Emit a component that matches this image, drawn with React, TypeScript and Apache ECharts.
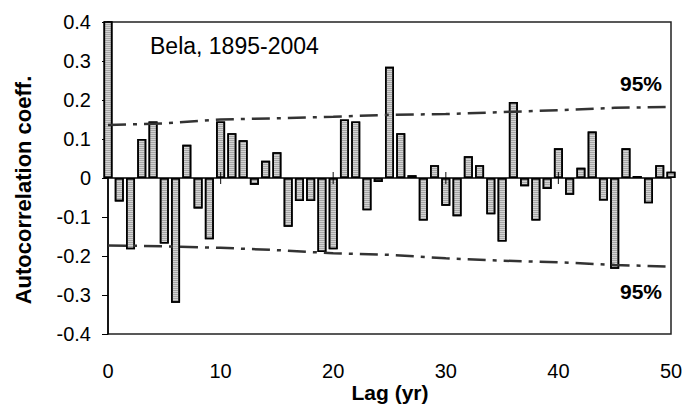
import React, { useEffect, useRef } from "react";
import * as echarts from "echarts";

const lags: number[] = Array.from({ length: 51 }, (_, i) => i);
const acf: number[] = [
  1, -0.06, -0.183, 0.1, 0.145, -0.168, -0.32, 0.085, -0.078, -0.157,
  0.145, 0.115, 0.097, -0.017, 0.044, 0.066, -0.125, -0.059, -0.059, -0.19,
  -0.183, 0.15, 0.145, -0.083, -0.01, 0.285, 0.115, 0.007, -0.109, 0.033,
  -0.071, -0.098, 0.056, 0.033, -0.093, -0.163, 0.195, -0.021, -0.109, -0.028,
  0.076, -0.043, 0.026, 0.119, -0.058, -0.233, 0.076, 0.005, -0.065, 0.033,
  0.016,
];
const boundLags: number[] = [0, 5, 10, 15, 20, 25, 30, 35, 40, 45, 50];
const upper95: number[] = [0.136, 0.14, 0.15, 0.153, 0.157, 0.162, 0.164, 0.169, 0.174, 0.18, 0.182];
const lower95: number[] = [-0.173, -0.175, -0.179, -0.185, -0.193, -0.197, -0.206, -0.212, -0.216, -0.223, -0.227];
const crossTickLags: number[] = [10, 20, 30, 40];
const yTicks = { min: -0.4, max: 0.4, interval: 0.1 };
const xTicks = { min: 0, max: 50, interval: 10 };

const FONT = "'Liberation Sans', Arial, sans-serif";

export default function App() {
  const ref = useRef<HTMLDivElement>(null);
  useEffect(() => {
    if (!ref.current) return;
    const chart = echarts.init(ref.current, undefined, { renderer: "svg" });
    const barStyle = {
      color: "#d4d4d4",
      borderColor: "#000",
      borderWidth: 1.6,
      decal: {
        symbol: "rect",
        symbolSize: 1,
        dashArrayX: [1, 0],
        dashArrayY: [1, 1],
        rotation: 0,
        color: "rgba(110,110,110,0.45)",
      },
    };
    const dashLine = {
      color: "#333",
      width: 2.5,
      type: [18, 7, 4, 7] as any,
    };
    chart.setOption({
      animation: false,
      textStyle: { fontFamily: FONT },
      grid: {
        left: 108,
        top: 22,
        right: 16,
        bottom: 71,
        show: true,
        borderColor: "#222",
        borderWidth: 1.5,
        backgroundColor: "transparent",
      },
      xAxis: {
        type: "value",
        min: xTicks.min,
        max: xTicks.max,
        interval: xTicks.interval,
        axisLine: { show: false, onZero: false },
        axisTick: { show: false },
        splitLine: { show: false },
        axisLabel: { color: "#000", fontSize: 20, margin: 27, fontFamily: FONT },
      },
      yAxis: {
        type: "value",
        min: yTicks.min,
        max: yTicks.max,
        interval: yTicks.interval,
        axisLine: { show: true, lineStyle: { color: "#000", width: 1.5 } },
        axisTick: { show: true, length: 6, lineStyle: { color: "#000", width: 1 } },
        splitLine: { show: false },
        axisLabel: {
          color: "#000",
          fontSize: 20,
          margin: 17,
          fontFamily: FONT,
          formatter: (v: number) => String(parseFloat(v.toFixed(1))),
        },
      },
      series: [
        {
          type: "bar",
          barWidth: 9,
          barGap: "-100%",
          clip: true,
          itemStyle: barStyle,
          data: lags.slice(0, 1).map((l) => [l, acf[l]]),
          z: 2,
        },
        {
          type: "bar",
          barWidth: 9,
          barGap: "-100%",
          clip: false,
          itemStyle: barStyle,
          data: lags.slice(1).map((l) => [l, acf[l]]),
          z: 2,
          markLine: {
            silent: true,
            symbol: "none",
            label: { show: false },
            lineStyle: { color: "#000", width: 1.5, type: "solid" },
            data: [{ yAxis: 0 }],
          },
        },
        {
          type: "line",
          symbol: "none",
          lineStyle: dashLine,
          data: boundLags.map((l, i) => [l, upper95[i]]),
          z: 4,
        },
        {
          type: "line",
          symbol: "none",
          lineStyle: dashLine,
          data: boundLags.map((l, i) => [l, lower95[i]]),
          z: 4,
        },
        {
          type: "scatter",
          symbol: "rect",
          symbolSize: [1.2, 12],
          itemStyle: { color: "#000" },
          data: crossTickLags.map((l) => [l, 0]),
          z: 5,
        },
      ],
      graphic: [
        {
          type: "text",
          x: 150,
          y: 46,
          style: {
            text: "Bela, 1895-2004",
            font: `23px ${FONT}`,
            fill: "#000",
            textAlign: "left",
            textVerticalAlign: "middle",
          },
        },
        {
          type: "text",
          x: 662,
          y: 83,
          style: {
            text: "95%",
            font: `bold 21px ${FONT}`,
            fill: "#000",
            textAlign: "right",
            textVerticalAlign: "middle",
          },
        },
        {
          type: "text",
          x: 662,
          y: 291,
          style: {
            text: "95%",
            font: `bold 21px ${FONT}`,
            fill: "#000",
            textAlign: "right",
            textVerticalAlign: "middle",
          },
        },
        {
          type: "text",
          x: 390,
          y: 392,
          style: {
            text: "Lag (yr)",
            font: `bold 21px ${FONT}`,
            fill: "#000",
            textAlign: "center",
            textVerticalAlign: "middle",
          },
        },
        {
          type: "text",
          x: 23,
          y: 190,
          rotation: Math.PI / 2,
          style: {
            text: "Autocorrelation coeff.",
            font: `bold 22px ${FONT}`,
            fill: "#000",
            textAlign: "center",
            textVerticalAlign: "middle",
          },
        },
      ],
    });
    return () => chart.dispose();
  }, []);
  return (
    <div
      ref={ref}
      style={{ position: "absolute", left: 0, top: 0, width: 687, height: 405 }}
    />
  );
}
